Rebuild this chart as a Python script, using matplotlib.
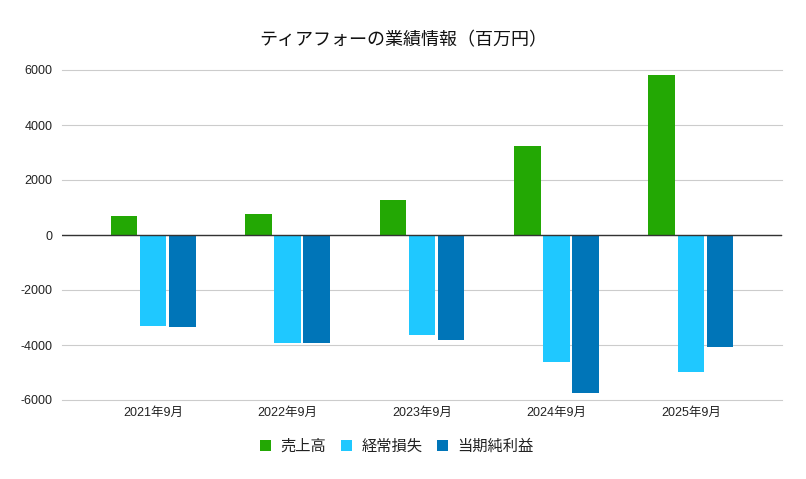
import matplotlib.pyplot as plt
import numpy as np

plt.rcParams['font.family'] = ['Liberation Sans', 'Noto Sans CJK JP', 'DejaVu Sans']

categories = ["2021年9月", "2022年9月", "2023年9月", "2024年9月", "2025年9月"]
series_names = ["売上高", "経常損失", "当期純利益"]
sales = [690, 760, 1270, 3240, 5820]
ordinary = [-3300, -3915, -3625, -4600, -4970]
net = [-3330, -3915, -3800, -5730, -4060]
colors = ["#23a804", "#1fc8ff", "#0075b8"]

fig = plt.figure(figsize=(8.06, 4.79), dpi=100)
ax = fig.add_axes([62/806, 1-400/479, 720/806, 330/479])

x = np.arange(len(categories))
w = 0.2
off = 0.216
for i, (vals, c, name) in enumerate(zip([sales, ordinary, net], colors, series_names)):
    ax.bar(x + (i-1)*off, vals, width=w, color=c, label=name, zorder=3)

ax.set_xlim(-0.677, 4.677)
ax.set_ylim(-6000, 6000)
ax.set_yticks(np.arange(-6000, 6001, 2000))
ax.set_yticklabels([str(v) for v in range(-6000, 6001, 2000)], fontsize=9, color="#222222")
ax.set_xticks(x)
ax.set_xticklabels(categories, fontsize=9, color="#222222")
ax.tick_params(length=0)
ax.tick_params(axis='y', pad=7)
ax.tick_params(axis='x', pad=5)
ax.grid(axis='y', color="#cccccc", linewidth=0.8, zorder=0)
for gl in ax.get_ygridlines():
    gl.set_clip_on(False)
ax.axhline(0, color="#333333", linewidth=1, zorder=4)
for s in ax.spines.values():
    s.set_visible(False)

fig.text(403/806, 1-40/479, "ティアフォーの業績情報（百万円）", ha='center', va='center',
         fontsize=13, color="#111111", family=['Noto Sans CJK JP', 'DejaVu Sans'])

leg = fig.legend(loc='center', bbox_to_anchor=(397/806, 1-446/479), ncol=3, frameon=False,
                 prop={'style': 'italic', 'size': 11, 'family': ['Noto Sans CJK JP', 'DejaVu Sans']},
                 handlelength=0.7, handleheight=0.7,
                 columnspacing=1.0, handletextpad=0.6)
for t in leg.get_texts():
    t.set_color("#222222")

fig.savefig("out.png", dpi=100)
